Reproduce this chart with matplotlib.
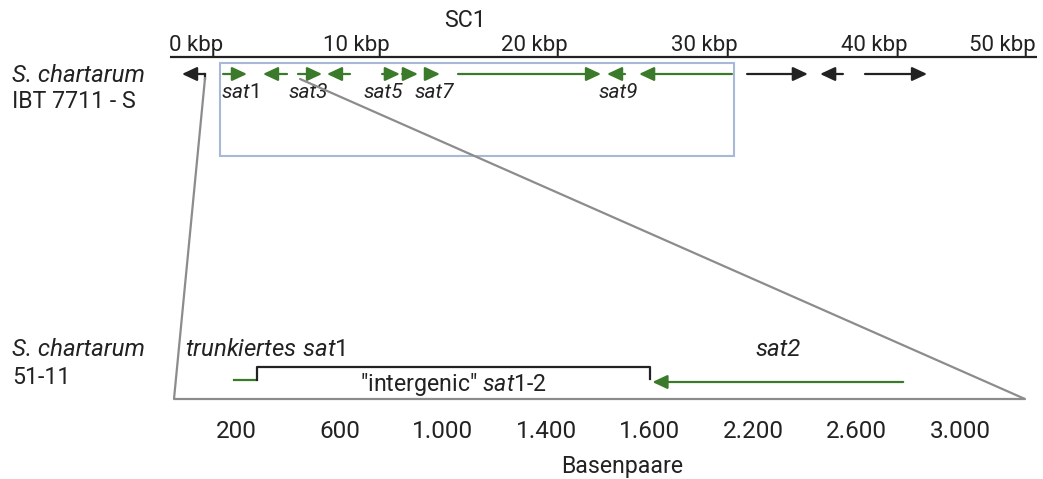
import matplotlib
matplotlib.use('Agg')
import matplotlib.pyplot as plt
from matplotlib.patches import Rectangle, ConnectionPatch

plt.rcParams['font.family'] = ['Roboto', 'DejaVu Sans']
plt.rcParams['mathtext.fontset'] = 'custom'
plt.rcParams['mathtext.rm'] = 'Roboto'
plt.rcParams['mathtext.it'] = 'Roboto:italic'

# SC1 contig genes (kbp): tail -> arrow tip
sc1_tail = [2.02, 3.06, 6.75, 7.38, 10.38, 12.23, 13.38, 14.71, 16.61, 26.24, 32.41, 33.28, 38.81, 40.08]
sc1_head = [0.69, 4.44, 5.36, 8.77, 9.05, 13.26, 14.30, 15.57, 24.86, 25.20, 27.05, 36.79, 37.49, 43.66]
sc1_is_sat = [False, True, True, True, True, True, True, True, True, True, True, False, False, False]
sat_labels = ['$\\it{sat}$1', 'sat3', 'sat5', 'sat7', 'sat9']
sat_label_style = ['normal', 'italic', 'italic', 'italic', 'italic']
sat_label_kbp = [4.04, 7.96, 12.28, 15.22, 25.84]
kbp_labels = ['0 kbp', '10 kbp', '20 kbp', '30 kbp', '40 kbp', '50 kbp']
kbp_label_pos = [1.5, 10.73, 20.99, 30.8, 40.6, 47.98]
sat_cluster = (2.88, 32.53)

# 51-11 zoomed region (bp)
trunc_sat1 = (192, 274)
intergenic = (280, 1800)
sat2_tail, sat2_head = 2780, 1810
bp_ticks = [200, 600, 1000, 1400, 1800, 2200, 2600, 3000]
bp_tick_labels = ['200', '600', '1.000', '1.400', '1.600', '2.200', '2.600', '3.000']

W, H = 1043, 479
GREEN = '#3b7a2a'
BLACK = '#222222'
GREY = '#8c8c8c'
BLUE = '#a8b9d6'
FS = 16.7
FS_IT = 17.3
FS_SAT = 15

fig = plt.figure(figsize=(W / 100, H / 100), dpi=100)

ax0 = fig.add_axes([0, 0, 1, 1])
ax0.set_xlim(0, W)
ax0.set_ylim(H, 0)
ax0.axis('off')

# genome axis, x in kbp
ax_g = fig.add_axes([170 / W, 0, (1037 - 170) / W, 1])
ax_g.set_xlim(0, 50)
ax_g.set_ylim(H, 0)
ax_g.axis('off')
ax_g.patch.set_alpha(0)

# zoomed axis, x in bp
ax_b = fig.add_axes([174 / W, 0, (1025 - 174) / W, 1])
ax_b.set_xlim(-40, 3251)
ax_b.set_ylim(H, 0)
ax_b.axis('off')
ax_b.patch.set_alpha(0)


def arrow(ax, tail, head, y, color):
    ax.annotate('', xy=(head, y), xytext=(tail, y),
                arrowprops=dict(arrowstyle='-|>,head_length=0.75,head_width=0.35',
                                color=color, lw=1.6, mutation_scale=12,
                                shrinkA=0, shrinkB=0))


# top genome
ax_g.plot([0, 50], [57, 57], color=BLACK, lw=1.6, solid_capstyle='butt')
for lab, x in zip(kbp_labels, kbp_label_pos):
    ax_g.text(x, 51, lab, ha='center', va='baseline', fontsize=16, color=BLACK)
ax_g.add_patch(Rectangle((sat_cluster[0], 63), sat_cluster[1] - sat_cluster[0], 93,
                         fill=False, edgecolor=BLUE, lw=1.5))
for t, h, s in zip(sc1_tail, sc1_head, sc1_is_sat):
    arrow(ax_g, t, h, 74, GREEN if s else BLACK)
for lab, x, st in zip(sat_labels, sat_label_kbp, sat_label_style):
    ax_g.text(x, 92, lab, ha='center', va='center', fontsize=FS_SAT, color=BLACK, style=st)

# zoom lines
ax_g.plot([sc1_tail[0], sc1_tail[0]], [74, 79], color=BLACK, lw=1.6)
fig.add_artist(ConnectionPatch(xyA=(sc1_tail[0], 78), coordsA=ax_g.transData,
                               xyB=(-40, 399), coordsB=ax_b.transData,
                               color=GREY, lw=1.6))
fig.add_artist(ConnectionPatch(xyA=(7.5, 79), coordsA=ax_g.transData,
                               xyB=(3251, 399), coordsB=ax_b.transData,
                               color=GREY, lw=1.6))

# bottom zoom
ax_b.plot([-40, 3251], [399, 399], color=GREY, lw=1.6)
ax_b.plot(trunc_sat1, [380, 380], color=GREEN, lw=1.6)
ax_b.plot([intergenic[0], intergenic[0], intergenic[1], intergenic[1]], [380, 367, 367, 379],
          color=BLACK, lw=1.6)
arrow(ax_b, sat2_tail, sat2_head, 382, GREEN)
ax_b.text(sum(intergenic) / 2, 385, '"intergenic" $\\it{sat}$1-2', ha='center', va='center',
          fontsize=FS, color=BLACK)
ax_b.text((sat2_tail + sat2_head) / 2, 349, 'sat2', ha='center', va='center',
          fontsize=FS_IT, style='italic', color=BLACK)
for x, lab in zip(bp_ticks, bp_tick_labels):
    ax_b.text(x, 431, lab, ha='center', va='center', fontsize=17.5, color=BLACK)

# labels
ax0.text(465, 20, 'SC1', ha='center', va='center', fontsize=FS, color=BLACK)
ax0.text(12, 75, 'S. chartarum', ha='left', va='center', fontsize=FS_IT, style='italic', color=BLACK)
ax0.text(12, 101, 'IBT 7711 - S', ha='left', va='center', fontsize=FS, color=BLACK)
ax0.text(12, 350, 'S. chartarum', ha='left', va='center', fontsize=FS_IT, style='italic', color=BLACK)
ax0.text(12, 377, '51-11', ha='left', va='center', fontsize=FS, color=BLACK)
ax0.text(185, 350, '$\\it{trunkiertes\\ sat}$1', ha='left', va='center', fontsize=FS_IT, color=BLACK)
ax0.text(622, 466, 'Basenpaare', ha='center', va='center', fontsize=FS, color=BLACK)

fig.savefig('out.png', dpi=100)
